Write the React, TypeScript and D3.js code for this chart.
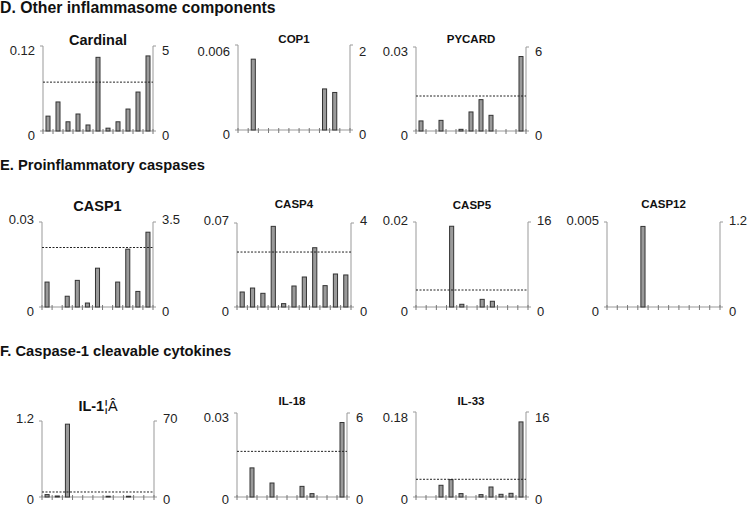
import React from "react";
import * as d3 from "d3";

// 11 samples per panel, unnamed in the figure
const samples = ["s1", "s2", "s3", "s4", "s5", "s6", "s7", "s8", "s9", "s10", "s11"];

const cardinalValues = [0.021, 0.041, 0.013, 0.024, 0.0085, 0.104, 0.004, 0.013, 0.031, 0.055, 0.106];
const cop1Values = [0, 0.005, 0, 0, 0, 0, 0, 0, 0.0029, 0.00265, 0];
const pycardValues = [0.0036, 0, 0.0038, 0, 0.0006, 0.0068, 0.0112, 0.0056, 0, 0, 0.0266];
const casp1Values = [0.0088, 0, 0.0038, 0.0094, 0.0014, 0.0137, 0, 0.0088, 0.0204, 0.0055, 0.0264];
const casp4Values = [0.0125, 0.0158, 0.0114, 0.0672, 0.0028, 0.0175, 0.025, 0.0494, 0.0178, 0.0275, 0.0267];
const casp5Values = [0, 0, 0, 0.019, 0.00064, 0, 0.0018, 0.00135, 0, 0, 0];
const casp12Values = [0, 0, 0, 0.00474, 0, 0, 0, 0, 0, 0, 0];
const il1Values = [0.038, 0.016, 1.15, 0, 0, 0, 0.012, 0, 0.012, 0, 0];
const il18Values = [0, 0.0104, 0, 0.005, 0, 0, 0.0038, 0.0012, 0, 0, 0.0266];
const il33Values = [0, 0, 0.0248, 0.0368, 0.0072, 0, 0.005, 0.0212, 0.0057, 0.0078, 0.159];

const titles = ["Cardinal", "COP1", "PYCARD", "CASP1", "CASP4", "CASP5", "CASP12", "IL-1¦Â", "IL-18", "IL-33"];
const leftMax = [0.12, 0.006, 0.03, 0.03, 0.07, 0.02, 0.005, 1.2, 0.03, 0.18];
const leftMaxLabels = ["0.12", "0.006", "0.03", "0.03", "0.07", "0.02", "0.005", "1.2", "0.03", "0.18"];
const rightMaxLabels = ["5", "2", "6", "3.5", "4", "16", "1.2", "70", "6", "16"];
const thresholds = [0.069, null, 0.0125, 0.021, 0.0458, 0.004, null, 0.079, 0.0163, 0.0375];
const allValues = [cardinalValues, cop1Values, pycardValues, casp1Values, casp4Values, casp5Values, casp12Values, il1Values, il18Values, il33Values];

const sections = [
  { label: "D. Other inflammasome components", y: 8.5, size: 15.8 },
  { label: "E. Proinflammatory caspases", y: 166, size: 14.7 },
  { label: "F. Caspase-1 cleavable cytokines", y: 352, size: 14.7 },
];

// panel frames: left axis, right axis, top, baseline, title y, title size, top label y
const layout = [
  [43, 153, 46, 131, 41, 14.5, 52],
  [238, 350, 45, 130, 40, 11.5, 52.5],
  [416, 526, 47, 131, 40, 11.5, 53],
  [42, 153, 222, 307, 207, 14.5, 221],
  [237, 351, 223, 307, 205, 11.5, 222],
  [416, 528, 222, 307, 206, 11.5, 222],
  [607, 720, 222, 307, 205, 11.5, 222],
  [42, 154, 421, 497, 407, 14.5, 419.5],
  [237, 347, 413, 497, 402, 11.5, 419],
  [416, 526, 412, 497, 402, 11.5, 419],
];

const FONT = "Arial, 'Liberation Sans', sans-serif";

function Panel({ i }: { i: number }) {
  const [x0, x1, top, base, titleY, titleSize, labelY] = layout[i];
  const values = allValues[i];
  const x = d3.scaleBand<string>().domain(samples).range([x0, x1]).paddingInner(0.5).paddingOuter(0.25);
  const y = d3.scaleLinear().domain([0, leftMax[i]]).range([base, top]);
  const step = x.step();
  const off = (step - x.bandwidth()) / 2;
  const th = thresholds[i];
  const title = titles[i];
  const zeroY = Math.min(base + 5.5, 501);
  return (
    <g>
      <text x={(x0 + x1) / 2} y={titleY} textAnchor="middle" dominantBaseline="middle"
        fontWeight="bold" fontSize={titleSize} fill="#111">
        {title === "IL-1¦Â" ? (<><tspan>IL-1</tspan><tspan fontWeight="normal">¦Â</tspan></>) : title}
      </text>
      {/* axes */}
      <line x1={x0} x2={x0} y1={top} y2={base} stroke="#999" />
      <line x1={x1} x2={x1} y1={top} y2={base} stroke="#999" />
      <line x1={x0 - 3} x2={x0} y1={top} y2={top} stroke="#999" />
      <line x1={x1} x2={x1 + 3} y1={top} y2={top} stroke="#999" />
      <line x1={x0 - 3} x2={x1 + 3} y1={base} y2={base} stroke="#999" />
      {samples.map((s) => (
        <line key={s} x1={(x(s) as number) - off} x2={(x(s) as number) - off} y1={base - 2} y2={base + 3} stroke="#777" />
      ))}
      <line x1={x1} x2={x1} y1={base - 2} y2={base + 3} stroke="#777" />
      {/* bars */}
      {values.map((v, k) =>
        v > 0 ? (
          <rect key={k} x={(x(samples[k]) as number) + 0.5} y={y(v)} width={x.bandwidth() - 1}
            height={base - y(v)} fill="#9a9a9a" stroke="#333" strokeWidth={1} />
        ) : null
      )}
      {th !== null && (
        <line x1={x0} x2={x1} y1={y(th)} y2={y(th)} stroke="#222" strokeDasharray="2,1.5" />
      )}
      {/* tick labels */}
      <g fontSize={13} fill="#222">
        <text x={x0 - 8} y={labelY} textAnchor="end" dominantBaseline="middle">{leftMaxLabels[i]}</text>
        <text x={x0 - 8} y={zeroY} textAnchor="end" dominantBaseline="middle">0</text>
        <text x={x1 + 9} y={labelY} dominantBaseline="middle">{rightMaxLabels[i]}</text>
        <text x={x1 + 9} y={zeroY} dominantBaseline="middle">0</text>
      </g>
    </g>
  );
}

export default function App() {
  return (
    <svg width={748} height={507} style={{ position: "fixed", left: 0, top: 0, background: "#fff" }}
      fontFamily={FONT}>
      <rect width={748} height={507} fill="#fff" />
      {sections.map((s) => (
        <text key={s.label} x={0} y={s.y} dominantBaseline="middle" fontWeight="bold" fontSize={s.size} fill="#111">
          {s.label}
        </text>
      ))}
      {titles.map((t, i) => (
        <Panel key={t} i={i} />
      ))}
    </svg>
  );
}
